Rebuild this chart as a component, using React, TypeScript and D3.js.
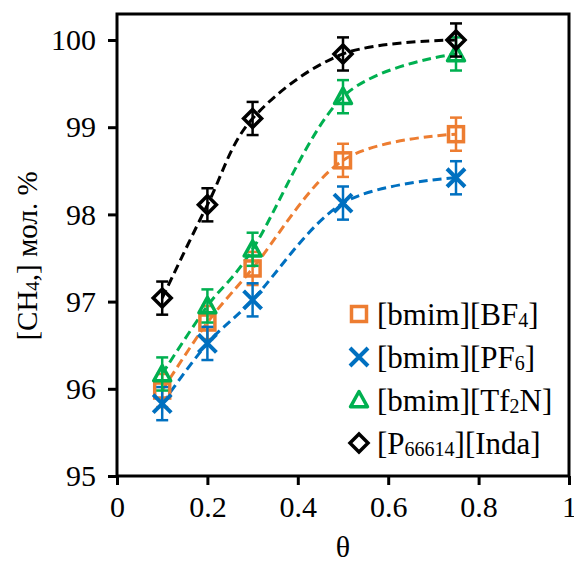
import React, { useEffect, useRef } from 'react';
import * as d3 from 'd3';

const thetas = [0.1, 0.2, 0.3, 0.5, 0.75];
const bf4 = [95.98, 96.76, 97.38, 98.62, 98.92];
const pf6 = [95.83, 96.52, 97.02, 98.13, 98.42];
const tf2n = [96.17, 96.95, 97.6, 99.35, 99.84];
const inda = [97.04, 98.11, 99.1, 99.84, 100.0];
const errs = [0.19, 0.19, 0.19, 0.19, 0.19];

const seriesNames = ['[bmim][BF|4|]', '[bmim][PF|6|]', '[bmim][Tf|2|N]', '[P|66614|][Inda]'];
const seriesColors = ['#ED7D31', '#0070C0', '#00B050', '#000000'];
const seriesMarkers = ['square', 'cross', 'triangle', 'diamond'];
const seriesValues = [bf4, pf6, tf2n, inda];

const xTicks = [0, 0.2, 0.4, 0.6, 0.8, 1];
const yTicks = [95, 96, 97, 98, 99, 100];

function addMarker(g: any, type: string, color: string, cx: number, cy: number) {
  if (type === 'square') {
    g.append('rect').attr('x', cx - 7.5).attr('y', cy - 7.5).attr('width', 15).attr('height', 15)
      .attr('fill', 'none').attr('stroke', color).attr('stroke-width', 3.5);
  } else if (type === 'cross') {
    const r = 9;
    g.append('path').attr('d', `M${cx - r},${cy - r}L${cx + r},${cy + r}M${cx - r},${cy + r}L${cx + r},${cy - r}`)
      .attr('stroke', color).attr('stroke-width', 4).attr('fill', 'none');
  } else if (type === 'triangle') {
    const r = 8.5;
    g.append('path').attr('d', `M${cx},${cy - r}L${cx + r},${cy + r * 0.8}L${cx - r},${cy + r * 0.8}Z`)
      .attr('fill', 'none').attr('stroke', color).attr('stroke-width', 3.5).attr('stroke-linejoin', 'round');
  } else {
    const r = 9;
    g.append('path').attr('d', `M${cx},${cy - r}L${cx + r},${cy}L${cx},${cy + r}L${cx - r},${cy}Z`)
      .attr('fill', 'none').attr('stroke', color).attr('stroke-width', 3.5);
  }
}

// "a|sub|b" -> tspans, the |...| parts as small digits near the baseline
function addRichText(t: any, label: string, subSize: number) {
  label.split('|').forEach((part, i) => {
    if (!part) return;
    if (i % 2 === 1) {
      t.append('tspan').attr('font-size', subSize).attr('dy', 2).text(part);
    } else {
      t.append('tspan').attr('dy', i > 0 ? -2 : 0).text(part);
    }
  });
}

const App = () => {
  const svgRef = useRef<SVGSVGElement>(null);

  useEffect(() => {
    const svg = d3.select(svgRef.current);
    svg.selectAll('*').remove();

    const left = 117, right = 569, top = 14, bottom = 476;
    const x = d3.scaleLinear().domain([0, 1]).range([left, right]);
    const y = d3.scaleLinear().domain([95, 95 + (bottom - top) / 87.2]).range([bottom, top]);
    const font = '"Liberation Serif", "Times New Roman", Times, serif';

    // frame
    svg.append('rect').attr('x', left).attr('y', top).attr('width', right - left).attr('height', bottom - top)
      .attr('fill', 'none').attr('stroke', '#000').attr('stroke-width', 3);

    // y axis
    const ya = svg.append('g').attr('transform', `translate(${left},0)`)
      .call(d3.axisLeft(y).tickValues(yTicks).tickSize(9).tickFormat(d3.format('d')));
    ya.select('.domain').remove();
    ya.selectAll('line').attr('stroke-width', 3);
    ya.selectAll('text').attr('font-family', font).attr('font-size', 30).attr('fill', '#000')
      .attr('x', -21);

    // x axis
    const xa = svg.append('g').attr('transform', `translate(0,${bottom})`)
      .call(d3.axisBottom(x).tickValues(xTicks).tickSize(9).tickFormat((d: any) => String(d)));
    xa.select('.domain').remove();
    xa.selectAll('line').attr('stroke-width', 3);
    xa.selectAll('text').attr('font-family', font).attr('font-size', 30).attr('fill', '#000')
      .attr('y', 20);

    // smoothed dashed lines through the points
    seriesValues.forEach((vals, si) => {
      const line = d3.line<number>().x((d, i) => x(thetas[i])).y((d) => y(d))
        .curve(d3.curveCardinal.tension(0));
      svg.append('path').attr('d', line(vals)).attr('fill', 'none')
        .attr('stroke', seriesColors[si]).attr('stroke-width', 3).attr('stroke-dasharray', '9,5');
    });

    // points with error bars
    seriesValues.forEach((vals, si) => {
      const g = svg.append('g');
      const c = seriesColors[si];
      vals.forEach((v, i) => {
        const cx = x(thetas[i]);
        const y1 = y(v + errs[i]), y2 = y(v - errs[i]);
        g.append('line').attr('x1', cx).attr('x2', cx).attr('y1', y1).attr('y2', y2)
          .attr('stroke', c).attr('stroke-width', 2.5);
        [y1, y2].forEach((yy) => {
          g.append('line').attr('x1', cx - 6).attr('x2', cx + 6).attr('y1', yy).attr('y2', yy)
            .attr('stroke', c).attr('stroke-width', 2.5);
        });
        addMarker(g, seriesMarkers[si], c, cx, y(v));
      });
    });

    // legend
    const legY = [314, 357, 400, 443];
    seriesNames.forEach((name, si) => {
      const g = svg.append('g');
      addMarker(g, seriesMarkers[si], seriesColors[si], 359, legY[si]);
      const t = g.append('text').attr('x', 377).attr('y', legY[si] + 11)
        .attr('font-family', font).attr('font-size', 31).attr('fill', '#000');
      addRichText(t, name, 20);
    });

    // axis titles
    svg.append('text').attr('x', x(0.5)).attr('y', 557).attr('text-anchor', 'middle')
      .attr('font-family', font).attr('font-size', 30).text('θ');
    const yl = svg.append('text').attr('transform', `translate(37,256) rotate(-90)`)
      .attr('text-anchor', 'middle').attr('font-family', font).attr('font-size', 29);
    addRichText(yl, '[CH|4|,] мол. %', 19);
  }, []);

  return (
    <svg ref={svgRef} width={574} height={564}
      style={{ position: 'absolute', left: 0, top: 0, background: '#fff' }} />
  );
};

export default App;
